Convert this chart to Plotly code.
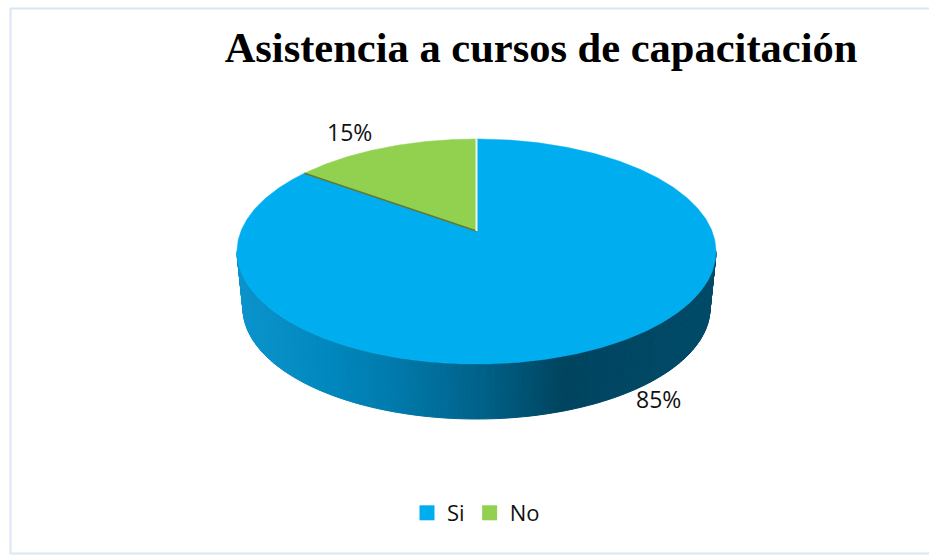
import numpy as np
import plotly.graph_objects as go

# Survey result
categories = ["Si", "No"]
values = [85, 15]
slice_colors = ["#00AEEF", "#92D050"]
title_text = "Asistencia a cursos de capacitación"

# Projected disc geometry (plot units equal screen pixels)
CX, CY, RX, RY = 476.5, 251.5, 239.5, 112.5
CX2, CY2, RX2, RY2 = 476.5, 308.0, 233.5, 111.0
TILT = 0.182  # perspective shift of the disc centre towards the viewer

# Horizontal shading of the cylinder wall
wall_stops = [(243, "#0B93CC"), (330, "#0088BE"), (400, "#0079AA"),
              (480, "#00628A"), (563, "#00445F"), (710, "#004A68")]


def hex_rgb(h):
    return np.array([int(h[i:i + 2], 16) for i in (1, 3, 5)], dtype=float)


def wall_color(x):
    xs = [s[0] for s in wall_stops]
    rgb = [np.interp(x, xs, [hex_rgb(s[1])[k] for s in wall_stops]) for k in range(3)]
    return "rgb(%d,%d,%d)" % tuple(round(c) for c in rgb)


def project(theta):
    """Map clockwise-from-top angles on the disc to the plot through the perspective."""
    px, py = np.sin(theta), np.cos(theta)
    den = 1 + TILT * py
    return (CX + RX * px * np.sqrt(1 - TILT ** 2) / den,
            CY - RY * (py + TILT) / den)


apex = (CX, CY - RY * TILT)

fig = go.Figure()

# Cylinder wall, one narrow strip per step along the front rim
edges = np.linspace(np.pi, 2 * np.pi, 181)
for a, b in zip(edges[:-1], edges[1:]):
    t = np.array([a, b])
    xt = CX + RX * np.cos(t)
    yt = CY - RY * np.sin(t)
    xb = CX2 + RX2 * np.cos(t)
    yb = CY2 - RY2 * np.sin(t)
    color = wall_color(xb.mean())
    fig.add_trace(go.Scatter(
        x=[xt[0], xt[1], xb[1], xb[0], xt[0]],
        y=[yt[0], yt[1], yb[1], yb[0], yt[0]],
        mode="lines", fill="toself", fillcolor=color,
        line=dict(color=color, width=1),
        hoverinfo="skip", showlegend=False))

# Top face: one sector per category, clockwise from twelve o'clock
total = sum(values)
start = 0.0
boundaries = []
for name, val, col in zip(categories, values, slice_colors):
    sweep = 2 * np.pi * val / total
    th = np.linspace(start, start + sweep, max(int(val * 6), 40))
    x, y = project(th)
    fig.add_trace(go.Scatter(
        x=np.r_[apex[0], x, apex[0]], y=np.r_[apex[1], y, apex[1]],
        mode="lines", fill="toself", fillcolor=col,
        line=dict(color=col, width=0.5),
        name=name, hoverinfo="name", showlegend=False))
    start += sweep
    boundaries.append(start)

# Sector edges: shaded on the lower side of the small slice, lit on its right side
ex, ey = project(np.array([boundaries[0]]))
fig.add_trace(go.Scatter(x=[apex[0], ex[0]], y=[apex[1], ey[0]], mode="lines",
                         line=dict(color="#5F7A30", width=1.5),
                         hoverinfo="skip", showlegend=False))
ex, ey = project(np.array([0.0]))
fig.add_trace(go.Scatter(x=[apex[0], ex[0]], y=[apex[1], ey[0]], mode="lines",
                         line=dict(color="#EEF7E6", width=2),
                         hoverinfo="skip", showlegend=False))

# Legend entries
for name, col in zip(categories, slice_colors):
    fig.add_trace(go.Scatter(x=[None], y=[None], mode="markers", name=name,
                             marker=dict(symbol="square", size=15, color=col)))

label_font = dict(family="Open Sans", size=23, color="#111111")
label_pos = {"Si": (658, 399), "No": (349, 132)}
annotations = [dict(x=label_pos[c][0], y=label_pos[c][1], text=f"{v}%", showarrow=False,
                    xref="x", yref="y", font=label_font)
               for c, v in zip(categories, values)]

fig.update_layout(
    width=929, height=555, autosize=False,
    margin=dict(l=0, r=0, t=0, b=0),
    paper_bgcolor="white", plot_bgcolor="white",
    title=dict(text=f"<b>{title_text}</b>", x=541 / 929, xanchor="center",
               y=1 - 47 / 555, yanchor="middle", yref="container",
               font=dict(family="Liberation Serif", size=42.5, color="black")),
    xaxis=dict(range=[0, 929], visible=False, fixedrange=True),
    yaxis=dict(range=[555, 0], visible=False, fixedrange=True),
    legend=dict(orientation="h", x=476 / 929, xanchor="center", y=1 - 513 / 555, yanchor="middle",
                font=dict(family="Open Sans", size=22, color="#111111"),
                bgcolor="rgba(0,0,0,0)", itemsizing="trace"),
    annotations=annotations,
    shapes=[dict(type="rect", x0=10.5, y0=8.5, x1=960, y1=553.5, xref="x", yref="y",
                 line=dict(color="#DBE5F4", width=2), layer="below")],
)

fig.write_html("out.html", config=dict(displayModeBar=False))
